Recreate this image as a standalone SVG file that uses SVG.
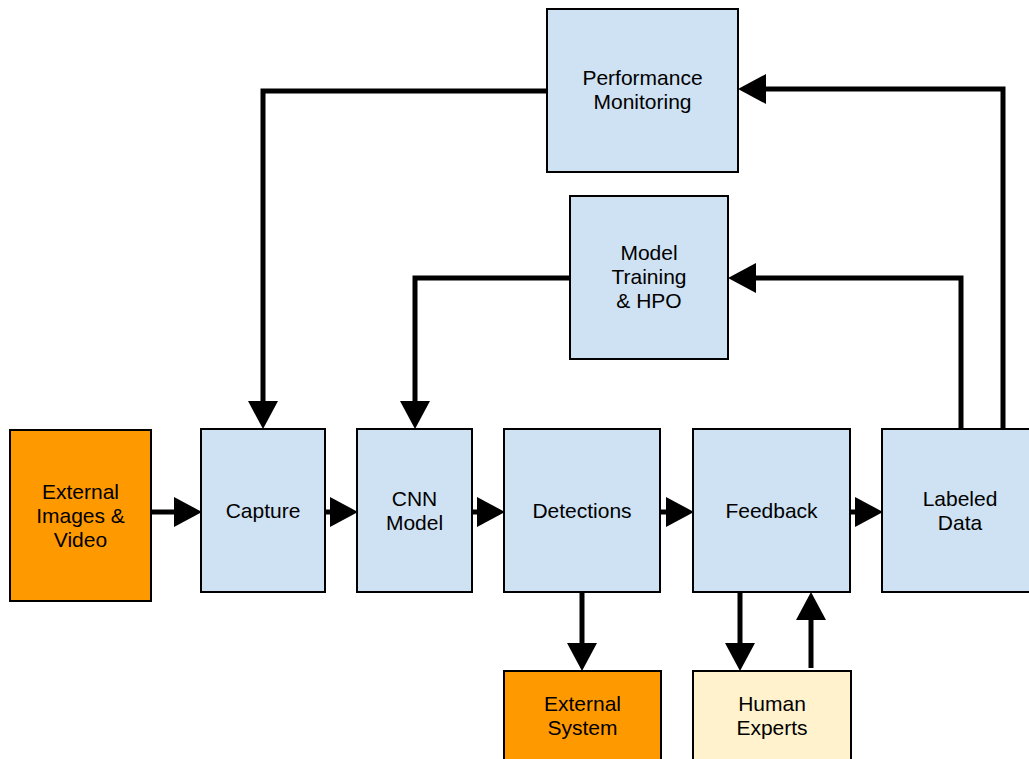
<svg xmlns="http://www.w3.org/2000/svg" width="1029" height="759" viewBox="0 0 1029 759">
<style>
.box{stroke:#000;stroke-width:2}
.blue{fill:#cfe2f3}
.orange{fill:#ff9900}
.cream{fill:#fff2cc}
text{font-family:"Liberation Sans",Arial,sans-serif;font-size:21px;fill:#000;text-anchor:middle}
.conn path{fill:none;stroke:#000;stroke-width:5;stroke-linejoin:miter}
</style>
<defs>
<marker id="arr" markerUnits="userSpaceOnUse" markerWidth="28" markerHeight="30" refX="0" refY="15" orient="auto" viewBox="0 0 28 30">
<path d="M0,0 L28,15 L0,30 z" fill="#000"/>
</marker>
</defs>
<rect width="1029" height="759" fill="#fff"/>
<g class="conn">
<path d="M151,512 H174" marker-end="url(#arr)"/>
<path d="M325,512 H330" marker-end="url(#arr)"/>
<path d="M472,512 H477" marker-end="url(#arr)"/>
<path d="M660,512 H666" marker-end="url(#arr)"/>
<path d="M850,512 H855" marker-end="url(#arr)"/>
<path d="M547,91 H263 V401" marker-end="url(#arr)"/>
<path d="M570,278 H415 V401" marker-end="url(#arr)"/>
<path d="M961,429 V278 H756" marker-end="url(#arr)"/>
<path d="M1003,429 V89 H766" marker-end="url(#arr)"/>
<path d="M582,592 V643" marker-end="url(#arr)"/>
<path d="M740,592 V643" marker-end="url(#arr)"/>
<path d="M811,668 V620" marker-end="url(#arr)"/>
</g>
<g id="ext-images"><rect class="box orange" x="10" y="430" width="141" height="171"/><text x="80.5" y="499">External</text><text x="80.5" y="523">Images &amp;</text><text x="80.5" y="547">Video</text></g>
<g id="capture"><rect class="box blue" x="201" y="429" width="124" height="163"/><text x="263" y="518">Capture</text></g>
<g id="cnn"><rect class="box blue" x="357" y="429" width="115" height="163"/><text x="414.5" y="506">CNN</text><text x="414.5" y="530">Model</text></g>
<g id="detections"><rect class="box blue" x="504" y="429" width="156" height="163"/><text x="582" y="518">Detections</text></g>
<g id="feedback"><rect class="box blue" x="693" y="429" width="157" height="163"/><text x="771.5" y="518">Feedback</text></g>
<g id="labeled"><rect class="box blue" x="882" y="429" width="158" height="163"/><text x="960" y="506">Labeled</text><text x="960" y="530">Data</text></g>
<g id="perf"><rect class="box blue" x="547" y="9" width="191" height="163"/><text x="642.5" y="85">Performance</text><text x="642.5" y="109">Monitoring</text></g>
<g id="training"><rect class="box blue" x="570" y="196" width="158" height="163"/><text x="649" y="260">Model</text><text x="649" y="284">Training</text><text x="649" y="308">&amp; HPO</text></g>
<g id="ext-system"><rect class="box orange" x="504" y="671" width="157" height="100"/><text x="582.5" y="711">External</text><text x="582.5" y="735">System</text></g>
<g id="human"><rect class="box cream" x="693" y="671" width="158" height="100"/><text x="772" y="711">Human</text><text x="772" y="735">Experts</text></g>
</svg>
